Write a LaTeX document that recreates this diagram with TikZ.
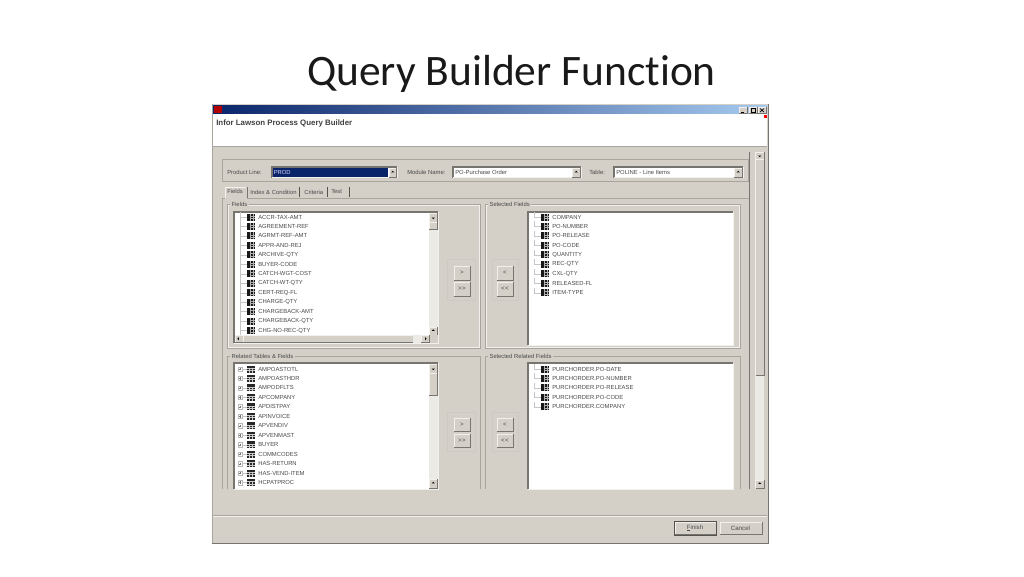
\documentclass[tikz,border=0pt]{standalone}
\usepackage{fontspec}
\setmainfont{Liberation Sans}
\newfontfamily\titlefont[Ligatures=NoCommon]{Carlito}
\definecolor{face}{HTML}{D4D0C8}
\definecolor{etch}{HTML}{A8A59D}
\definecolor{hilite}{HTML}{F2F0EC}
\definecolor{shadowc}{HTML}{77756F}
\definecolor{darkc}{HTML}{55534E}
\definecolor{trackc}{HTML}{ECEAE5}
\definecolor{txt}{HTML}{4A4A4A}
\definecolor{navy}{HTML}{0A246A}
\definecolor{barend}{HTML}{A6CAF0}
\tikzset{
  ui/.style={font=\fontsize{4.4}{5}\selectfont,text=txt,inner sep=0pt,anchor=west},
  bold ui/.style={font=\fontsize{5.9}{6.5}\selectfont\bfseries,text=black!75,inner sep=0pt,anchor=west},
  btn text/.style={font=\fontsize{4.6}{5}\selectfont,text=txt,inner sep=0pt},
  etched/.style={draw=etch,line width=0.5pt},
  tree/.style={draw=gray!45,line width=0.35pt},
}
% sunken field: x1 y1 x2 y2
\newcommand{\sunkenbox}[4]{%
  \fill[white] (#1,#2) rectangle (#3,#4);
  \draw[shadowc,line width=0.8pt] (#1,#4) -- (#1,#2) -- (#3,#2);
  \draw[hilite,line width=0.5pt] (#1,#4) -- (#3,#4) -- (#3,#2);
}
% raised 3D box: x1 y1 x2 y2
\newcommand{\raisedbox}[4]{%
  \fill[face] (#1,#2) rectangle (#3,#4);
  \draw[hilite,line width=0.5pt] (#1,#4) -- (#1,#2) -- (#3,#2);
  \draw[shadowc,line width=0.7pt] (#1,#4) -- (#3,#4) -- (#3,#2);
}
\newcommand{\arrowbtn}[5]{%
  \raisedbox{#1}{#2}{#3}{#4}
  \fill[black] ({(#1+#3)/2},{(#2+#4)/2}) ++(#5:1.6) -- ++(#5+135:2.2) -- ++(#5+270:3.1) -- cycle;
}
\newcommand{\etchframe}[6]{%
  \draw[etched] (#1,#2) rectangle (#3,#4);
  \draw[hilite,line width=0.4pt] (#1+1,#2+1) rectangle (#3-1,#4-1);
  \node[ui,fill=face,inner xsep=1pt] (#5) at (#1+3,#2) {#6};
}
\newcommand{\fieldicon}[2]{%
  \fill[black!90] (#1,#2-3.5) rectangle (#1+8,#2+3.5);
  \foreach \q in {-1.2,1.2}{\draw[gray!60,line width=0.35pt] (#1+4.2,#2+\q) -- (#1+8,#2+\q);}
  \draw[gray!60,line width=0.35pt] (#1+3.6,#2-3.5) -- (#1+3.6,#2+3.5) (#1+6,#2-3.5) -- (#1+6,#2+3.5);
}
\newcommand{\tableicon}[2]{%
  \fill[black!85] (#1,#2-3.5) rectangle (#1+8,#2+3.5);
  \foreach \q in {-1,1.2}{\draw[gray!40,line width=0.35pt] (#1,#2+\q) -- (#1+8,#2+\q);}
  \foreach \q in {2.7,5.3}{\draw[gray!40,line width=0.35pt] (#1+\q,#2-1) -- (#1+\q,#2+3.5);}
}
\newcommand{\plusbox}[2]{%
  \draw[gray!55,line width=0.3pt,fill=white] (#1-2.2,#2-2.2) rectangle (#1+2.2,#2+2.2);
  \draw[black!55,line width=0.3pt] (#1-1.2,#2) -- (#1+1.2,#2) (#1,#2-1.2) -- (#1,#2+1.2);
  \draw[tree] (#1+2.2,#2) -- (#1+6.5,#2);
}
\begin{document}
\begin{tikzpicture}[x=0.75pt,y=-0.75pt]
\useasboundingbox (0,0) rectangle (1024,576);
\fill[white] (0,0) rectangle (1024,576);

\node[font=\titlefont\fontsize{32.6}{38}\selectfont,text=black!90,inner sep=0pt,anchor=base] (title) at (511.5,85) {Query Builder Function};

% window
\fill[face] (212,104) rectangle (768,543);
\draw[shadowc,line width=0.7pt] (212,543) -- (768,543) -- (768,104);
\draw[etch,line width=0.4pt] (212,543) -- (212,104);
\shade[left color=navy,right color=barend] (213,105) rectangle (767,114);
\fill[white] (213,114) rectangle (767,146);
\draw[etch,line width=0.4pt] (213,146) -- (767,146);
\fill[red!70!black] (214,106) rectangle (222,113);
\node[bold ui] (apptitle) at (216,123.5) {Infor Lawson Process Query Builder};
\raisedbox{739}{107}{747}{113}
\raisedbox{749}{107}{757}{113}
\raisedbox{758}{107}{766}{113}
\draw[black,line width=0.5pt] (741,112) -- (744,112);
\draw[black,line width=0.4pt] (751,108.5) rectangle (755,112);
\draw[black,line width=0.5pt] (760,108.5) -- (764,112) (764,108.5) -- (760,112);
\fill[red] (764,115) rectangle (767,118);

% top group
\draw[etched] (222,159) rectangle (748,181);
\node[ui] (lblprod) at (227,172.5) {Product Line:};
\sunkenbox{272}{167}{397}{177.5}
\fill[navy] (273,168) rectangle (388,177);
\node[ui,text=white!85!blue] (valprod) at (273.5,172.5) {PROD};
\arrowbtn{389}{168}{396.5}{177}{-90}
\node[ui] (lblmod) at (407,172.5) {Module Name:};
\sunkenbox{453}{167}{581}{177.5}
\node[ui] (valmod) at (455,172.5) {PO-Purchase Order};
\arrowbtn{572}{168}{580.5}{177}{-90}
\node[ui] (lbltab) at (589,172.5) {Table:};
\sunkenbox{614}{167}{743}{177.5}
\node[ui] (valtab) at (616,172.5) {POLINE - Line Items};
\arrowbtn{734}{168}{742.5}{177}{-90}

% tabs
\draw[etch,line width=0.5pt] (222,489) -- (222,198) -- (225,198) (247,198) -- (749,198) -- (749,489);
\draw[hilite,line width=0.6pt] (225,198) -- (225,187) -- (246,187);
\draw[shadowc,line width=0.6pt] (247,187) -- (247,198);
\node[ui] (tabfields) at (227,191.5) {Fields};
\node[ui] (tabindex) at (250,192) {Index \& Condition};
\draw[darkc,line width=0.5pt] (299,187) -- (299,197);
\node[ui] (tabcrit) at (304,192) {Criteria};
\draw[darkc,line width=0.5pt] (327,187) -- (327,197);
\node[ui] (tabtest) at (331,192) {Test};
\draw[darkc,line width=0.5pt] (349,187) -- (349,197);

% group frames
\etchframe{227}{204}{480}{348}{gfields}{Fields}
\etchframe{485}{204}{740}{348}{gsel}{Selected Fields}
\draw[etched] (227,489) -- (227,356) -- (480,356) -- (480,489);
\node[ui,fill=face,inner xsep=1pt] (grel) at (230,356) {Related Tables \& Fields};
\draw[etched] (485,489) -- (485,356) -- (740,356) -- (740,489);
\node[ui,fill=face,inner xsep=1pt] (gselrel) at (488,356) {Selected Related Fields};

% list boxes
\sunkenbox{234}{212}{438}{343}
\sunkenbox{528}{212}{733}{345}
\sunkenbox{234}{363}{438}{489}
\sunkenbox{528}{363}{733}{489}

% fields list scrollbars
\fill[trackc] (429,213) rectangle (437.5,335);
\arrowbtn{429}{213}{437.5}{222}{90}
\raisedbox{429}{222}{437.5}{229}
\arrowbtn{429}{327}{437.5}{335}{-90}
\fill[face] (235,335) rectangle (437.5,343);
\arrowbtn{235}{335}{243}{342.5}{180}
\raisedbox{243}{335}{413}{342.5}
\fill[trackc] (413,335) rectangle (421,342.5);
\arrowbtn{421}{335}{429}{342.5}{0}
% related list scrollbar
\fill[trackc] (429,364) rectangle (437.5,488);
\arrowbtn{429}{364}{437.5}{373}{90}
\raisedbox{429}{373}{437.5}{395}
\arrowbtn{429}{479}{437.5}{488}{-90}

% Fields rows
\foreach \t [count=\i from 0] in {ACCR-TAX-AMT,AGREEMENT-REF,AGRMT-REF-AMT,APPR-AND-REJ,ARCHIVE-QTY,BUYER-CODE,CATCH-WGT-COST,CATCH-WT-QTY,CERT-REQ-FL,CHARGE-QTY,CHARGEBACK-AMT,CHARGEBACK-QTY,CHG-NO-REC-QTY}{
  \pgfmathsetmacro\yy{217+9.47*\i}
  \draw[tree] (240,\yy-5) -- (240,\yy+4.5) (240,\yy) -- (247,\yy);
  \fieldicon{247}{\yy}
  \node[ui] (f\i) at (258,\yy) {\t};
}
% Selected fields rows
\foreach \t [count=\i from 0] in {COMPANY,PO-NUMBER,PO-RELEASE,PO-CODE,QUANTITY,REC-QTY,CXL-QTY,RELEASED-FL,ITEM-TYPE}{
  \pgfmathsetmacro\yy{217+9.47*\i}
  \draw[tree] (534,\yy-5) -- (534,\yy) -- (541,\yy);
  \fieldicon{541}{\yy}
  \node[ui] (s\i) at (552,\yy) {\t};
}
% Related rows
\foreach \t [count=\i from 0] in {AMPOASTOTL,AMPOASTHDR,AMPODFLTS,APCOMPANY,APDISTPAY,APINVOICE,APVENDIV,APVENMAST,BUYER,COMMCODES,HAS-RETURN,HAS-VEND-ITEM,HCPATPROC}{
  \pgfmathsetmacro\yy{369+9.47*\i}
  \plusbox{240}{\yy}
  \tableicon{247}{\yy}
  \node[ui] (r\i) at (258,\yy) {\t};
}
% Selected related rows
\foreach \t [count=\i from 0] in {PURCHORDER.PO-DATE,PURCHORDER.PO-NUMBER,PURCHORDER.PO-RELEASE,PURCHORDER.PO-CODE,PURCHORDER.COMPANY}{
  \pgfmathsetmacro\yy{369+9.47*\i}
  \draw[tree] (534,\yy-5) -- (534,\yy) -- (541,\yy);
  \fieldicon{541}{\yy}
  \node[ui] (q\i) at (552,\yy) {\t};
}

% move button panels
\draw[etched,hilite!50!etch] (447,259) rectangle (475,300);
\draw[etched,hilite!50!etch] (492,259) rectangle (518,300);
\draw[etched,hilite!50!etch] (447,412) rectangle (475,451);
\draw[etched,hilite!50!etch] (492,412) rectangle (518,451);
\raisedbox{454}{266}{470}{280}
\raisedbox{454}{282}{470}{296}
\raisedbox{497}{266}{513}{280}
\raisedbox{497}{282}{513}{296}
\raisedbox{454}{418}{470}{431}
\raisedbox{454}{434}{470}{447}
\raisedbox{497}{418}{513}{431}
\raisedbox{497}{434}{513}{447}
\node[btn text] (b1) at (462,273) {\char62};
\node[btn text] (b2) at (462,289) {\char62\kern0.3pt\char62};
\node[btn text] (b3) at (505,273) {\char60};
\node[btn text] (b4) at (505,289) {\char60\kern0.3pt\char60};
\node[btn text] (b5) at (462,424.5) {\char62};
\node[btn text] (b6) at (462,440.5) {\char62\kern0.3pt\char62};
\node[btn text] (b7) at (505,424.5) {\char60};
\node[btn text] (b8) at (505,440.5) {\char60\kern0.3pt\char60};

% main scrollbar
\fill[trackc] (755,152) rectangle (764,489);
\arrowbtn{755.5}{152}{764}{159}{90}
\raisedbox{755.5}{159}{764}{375}
\arrowbtn{755.5}{480}{764}{488}{-90}
\draw[shadowc,line width=0.5pt] (749,489) -- (749,152);

% bottom
\draw[etch,line width=0.5pt] (213,515) -- (767,515);
\draw[hilite,line width=0.4pt] (213,516) -- (767,516);
\raisedbox{675}{522}{716}{534.5}
\draw[darkc,line width=0.7pt] (674,521.5) rectangle (716.5,535);
\node[btn text] (finish) at (695,528) {\rlap{\rule[-0.5pt]{2.6pt}{0.25pt}}Finish};
\raisedbox{720}{522}{762}{534.5}
\node[btn text] (cancel) at (740.5,528) {Cancel};
\end{tikzpicture}
\end{document}
